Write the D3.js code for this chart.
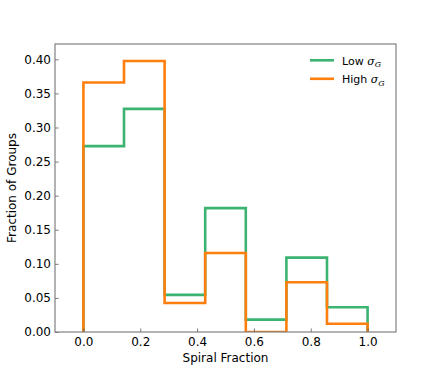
<!DOCTYPE html>
<html><head><meta charset="utf-8">
<script src="https://cdn.jsdelivr.net/npm/d3@7"></script>
<style>body{margin:0;background:#fff;} text{font-family:"DejaVu Sans",sans-serif;}</style>
</head><body>
<svg id="c" width="440" height="373"></svg>
<script>
const binEdges = [0, 1/7, 2/7, 3/7, 4/7, 5/7, 6/7, 1];
const lowSigma = [0.2727, 0.3273, 0.0545, 0.1818, 0.0182, 0.1091, 0.0364];
const highSigma = [0.366, 0.3975, 0.0425, 0.116, 0.0, 0.073, 0.0122];
const xTicks = [0.0, 0.2, 0.4, 0.6, 0.8, 1.0];
const yTicks = [0.00, 0.05, 0.10, 0.15, 0.20, 0.25, 0.30, 0.35, 0.40];
const seriesNames = ["Low", "High"];
const colors = ["#3cb371", "#ff7f0e"];

const svg = d3.select("#c");
const L = 55, R = 396, T = 44, B = 332;
const x = d3.scaleLinear().domain([-0.1, 1.1]).range([L, R]);
const y = d3.scaleLinear().domain([0, 0.4225]).range([B, T]);

function stepPath(vals) {
  const pts = [[binEdges[0], 0]];
  vals.forEach((v, i) => { pts.push([binEdges[i], v]); pts.push([binEdges[i+1], v]); });
  pts.push([binEdges[binEdges.length-1], 0]);
  return d3.line().x(d => x(d[0])).y(d => y(d[1]))(pts);
}

svg.append("clipPath").attr("id","cp").append("rect")
  .attr("x", L).attr("y", T).attr("width", R-L).attr("height", B-T);

[lowSigma, highSigma].forEach((vals, i) => {
  svg.append("path").attr("d", stepPath(vals))
    .attr("fill", "none").attr("stroke", colors[i]).attr("stroke-width", 2.6)
    .attr("stroke-linejoin", "miter").attr("clip-path", "url(#cp)");
});

// axes
const xAxis = d3.axisBottom(x).tickValues(xTicks).tickFormat(d3.format(".1f")).tickSizeInner(-3.5).tickSizeOuter(0).tickPadding(5);
const yAxis = d3.axisLeft(y).tickValues(yTicks).tickFormat(d3.format(".2f")).tickSizeInner(-3.5).tickSizeOuter(0).tickPadding(4);
const gx = svg.append("g").attr("transform", `translate(0,${B})`).call(xAxis);
const gy = svg.append("g").attr("transform", `translate(${L},0)`).call(yAxis);
[gx, gy].forEach(g => {
  g.select(".domain").remove();
  g.selectAll(".tick line").attr("stroke", "#555").attr("stroke-width", 0.8);
  g.selectAll(".tick text").attr("font-size", 12).attr("fill", "#000").attr("font-family", "DejaVu Sans");
});
gx.selectAll(".tick text").attr("dy", "0.71em");

// frame
svg.append("rect").attr("x", L).attr("y", T).attr("width", R-L).attr("height", B-T)
  .attr("fill", "none").attr("stroke", "#808080").attr("stroke-width", 1.2);

// labels
svg.append("text").attr("x", (L+R)/2).attr("y", 362).attr("text-anchor", "middle")
  .attr("font-size", 12).text("Spiral Fraction");
svg.append("text").attr("transform", `translate(16,${(T+B)/2}) rotate(-90)`).attr("text-anchor", "middle")
  .attr("font-size", 12).text("Fraction of Groups");

// legend
seriesNames.forEach((name, i) => {
  const ly = 60.3 + i * 18.5;
  svg.append("line").attr("x1", 310).attr("x2", 334).attr("y1", ly).attr("y2", ly)
    .attr("stroke", colors[i]).attr("stroke-width", 2.6);
  const t = svg.append("text").attr("x", 342).attr("y", ly + 4.2).attr("font-size", 11);
  t.append("tspan").text(name + " ");
  t.append("tspan").attr("font-style", "italic").attr("font-family", "DejaVu Serif").text("σ");
  t.append("tspan").attr("font-size", 8).attr("font-style", "italic").attr("font-family", "DejaVu Serif").attr("dy", 2.5).text("G");
});
</script>
</body></html>
